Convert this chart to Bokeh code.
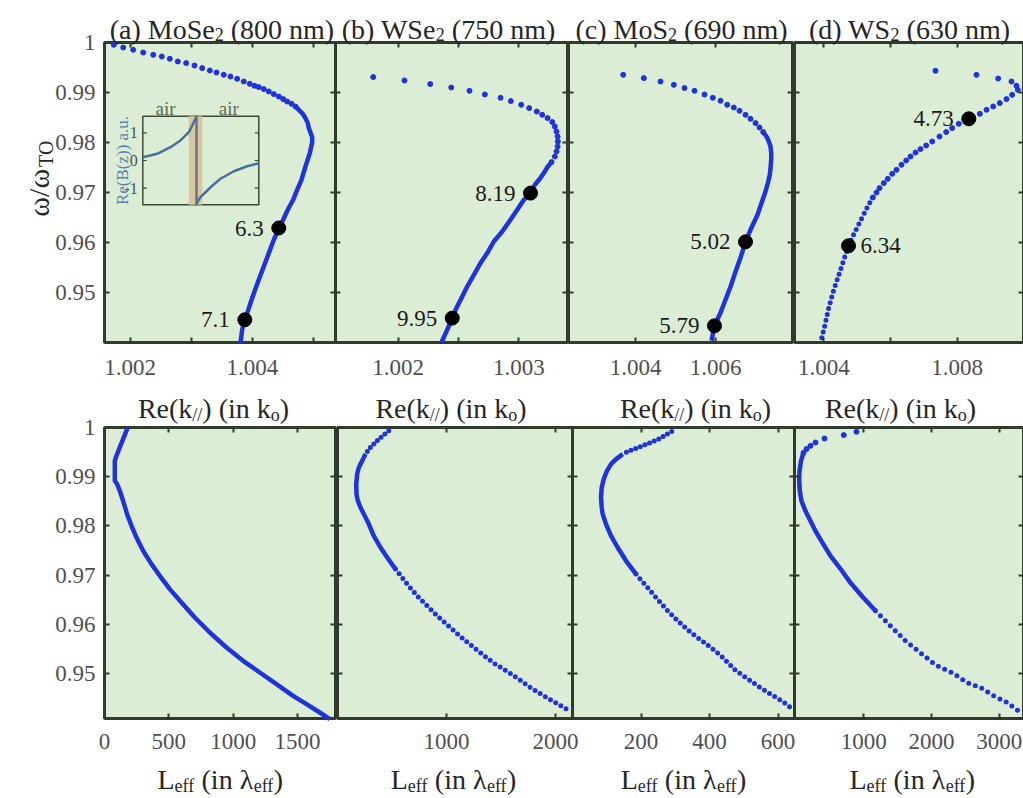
import math
from bokeh.plotting import figure
from bokeh.models import Range1d, LinearAxis, FixedTicker, Label, CustomJSTickFormatter
from bokeh.core.properties import value
from bokeh.embed import file_html
from bokeh.resources import INLINE

# ---------------- data: top row, omega/omega_TO vs Re(k_par) (in k0) ----------------
mose2_k = [1.001735, 1.001889, 1.002052, 1.002215, 1.002379, 1.002519, 1.002650, 1.002781, 1.002918, 1.003054,
           1.003179, 1.003304, 1.003413, 1.003532, 1.003642, 1.003751, 1.003859, 1.003957, 1.004034, 1.004104,
           1.004186, 1.004268, 1.004350, 1.004431, 1.004503, 1.004568, 1.004639, 1.004704, 1.004758, 1.004813,
           1.004867, 1.004905, 1.004922, 1.004950, 1.004977, 1.004977, 1.004938, 1.004867, 1.004802, 1.004731,
           1.004666, 1.004578, 1.004503, 1.004431, 1.004350, 1.004268, 1.004186, 1.004104, 1.004034, 1.003969,
           1.003915, 1.003876, 1.003833, 1.003805]
mose2_w = [0.99954, 0.99900, 0.99854, 0.99800, 0.99754, 0.99720, 0.99674, 0.99620, 0.99588, 0.99540,
           0.99488, 0.99440, 0.99400, 0.99354, 0.99320, 0.99274, 0.99220, 0.99174, 0.99134, 0.99108,
           0.99068, 0.99020, 0.98968, 0.98920, 0.98868, 0.98820, 0.98774, 0.98720, 0.98654, 0.98588,
           0.98488, 0.98388, 0.98288, 0.98200, 0.98100, 0.98000, 0.97788, 0.97520, 0.97254, 0.97054,
           0.96854, 0.96654, 0.96454, 0.96288, 0.96054, 0.95788, 0.95520, 0.95254, 0.95020, 0.94788,
           0.94588, 0.94454, 0.94254, 0.93988]

wse2_k = [1.001794, 1.002053, 1.002266, 1.002440, 1.002591, 1.002718, 1.002848, 1.002933, 1.003019, 1.003085,
          1.003148, 1.003193, 1.003237, 1.003276, 1.003297, 1.003311, 1.003320, 1.003322, 1.003320, 1.003311,
          1.003297, 1.003270, 1.003239, 1.003209, 1.003173, 1.003132, 1.003096, 1.003041, 1.002986, 1.002930,
          1.002862, 1.002792, 1.002738, 1.002682, 1.002627, 1.002572, 1.002531, 1.002483, 1.002448, 1.002406,
          1.002359]
wse2_w = [0.99308, 0.99240, 0.99168, 0.99100, 0.99034, 0.98960, 0.98894, 0.98828, 0.98754, 0.98688,
          0.98620, 0.98554, 0.98488, 0.98408, 0.98320, 0.98220, 0.98120, 0.98020, 0.97920, 0.97820,
          0.97720, 0.97608, 0.97520, 0.97400, 0.97274, 0.97154, 0.96988, 0.96854, 0.96654, 0.96454,
          0.96220, 0.96020, 0.95788, 0.95588, 0.95354, 0.95120, 0.94920, 0.94688, 0.94488, 0.94254,
          0.94000]

mos2_k = [1.003693, 1.004208, 1.004625, 1.004958, 1.005225, 1.005475, 1.005725, 1.005933, 1.006125, 1.006293,
          1.006458, 1.006600, 1.006750, 1.006875, 1.007000, 1.007100, 1.007193, 1.007275, 1.007333, 1.007375,
          1.007393, 1.007393, 1.007375, 1.007358, 1.007308, 1.007250, 1.007193, 1.007050, 1.006875, 1.006750,
          1.006625, 1.006500, 1.006375, 1.006250, 1.006125, 1.005975, 1.005900]
mos2_w = [0.99354, 0.99288, 0.99220, 0.99154, 0.99088, 0.99034, 0.98960, 0.98894, 0.98834, 0.98754,
          0.98700, 0.98634, 0.98554, 0.98474, 0.98388, 0.98300, 0.98208, 0.98120, 0.98020, 0.97920,
          0.97788, 0.97654, 0.97488, 0.97354, 0.97188, 0.97020, 0.96888, 0.96554, 0.96254, 0.96014,
          0.95694, 0.95414, 0.95114, 0.94854, 0.94594, 0.94334, 0.94034]

ws2_k = [1.007349, 1.008579, 1.009229, 1.009628, 1.009778, 1.009817, 1.009649, 1.009478, 1.009277, 1.009079,
         1.008879, 1.008678, 1.008348, 1.008048, 1.007850, 1.007670, 1.007469, 1.007250, 1.007070, 1.006900,
         1.006750, 1.006600, 1.006471, 1.006330, 1.006180, 1.006051, 1.005919, 1.005799, 1.005670, 1.005580,
         1.005469, 1.005340, 1.005220, 1.005100, 1.004980, 1.004861, 1.004741, 1.004651, 1.004561, 1.004471,
         1.004381, 1.004291, 1.004216, 1.004141, 1.004081, 1.004021, 1.003961, 1.003916]
ws2_w = [0.99434, 0.99354, 0.99280, 0.99220, 0.99134, 0.99054, 0.98954, 0.98868, 0.98788, 0.98720,
         0.98654, 0.98574, 0.98474, 0.98374, 0.98288, 0.98208, 0.98120, 0.98020, 0.97940, 0.97868,
         0.97800, 0.97720, 0.97640, 0.97554, 0.97454, 0.97374, 0.97274, 0.97188, 0.97088, 0.97000,
         0.96900, 0.96754, 0.96594, 0.96434, 0.96274, 0.96114, 0.95934, 0.95754, 0.95574, 0.95394,
         0.95214, 0.95034, 0.94854, 0.94674, 0.94494, 0.94314, 0.94154, 0.94034]

# highlighted points (black) and their labels
mose2_dot_k = [1.004431, 1.003876]
mose2_dot_w = [0.96290, 0.94454]
mose2_dot_lbl = ["6.3", "7.1"]
wse2_dot_k = [1.003096, 1.002448]
wse2_dot_w = [0.96988, 0.94488]
wse2_dot_lbl = ["8.19", "9.95"]
mos2_dot_k = [1.006750, 1.005975]
mos2_dot_w = [0.96014, 0.94334]
mos2_dot_lbl = ["5.02", "5.79"]
ws2_dot_k = [1.008348, 1.004741]
ws2_dot_w = [0.98474, 0.95934]
ws2_dot_lbl = ["4.73", "6.34"]

# ---------------- data: bottom row, omega/omega_TO vs L_eff (in lambda_eff) ----------------
mose2_L = [178.7, 144.5, 113.4, 93.2, 80.0, 80.0, 80.0, 97.9, 118.9, 144.5,
           175.6, 209.8, 248.6, 299.9, 365.2, 429.7, 507.4, 598.3, 701.6, 818.2,
           947.9, 1076.9, 1206.7, 1336.4, 1465.5, 1569.6, 1672.9, 1750.6]
mose2_wL = [0.99988, 0.99764, 0.99561, 0.99425, 0.99323, 0.99120, 0.98917, 0.98850, 0.98713, 0.98510,
            0.98240, 0.98002, 0.97764, 0.97494, 0.97224, 0.96986, 0.96715, 0.96443, 0.96138, 0.95833,
            0.95528, 0.95258, 0.95020, 0.94785, 0.94547, 0.94378, 0.94207, 0.94073]

wse2_L = [470.6, 424.8, 378.9, 333.0, 296.3, 256.9, 226.6, 195.4, 180.7, 171.6,
          174.3, 186.2, 211.0, 241.3, 287.2, 333.0, 394.5, 456.0, 532.1, 639.4,
          731.2, 822.9, 914.7, 1006.4, 1112.8, 1220.2, 1327.5, 1434.0, 1556.9, 1663.3,
          1770.6, 1892.7, 2015.6, 2116.5]
wse2_wL = [0.99933, 0.99852, 0.99764, 0.99663, 0.99581, 0.99459, 0.99323, 0.99187, 0.99053, 0.98850,
           0.98646, 0.98513, 0.98374, 0.98240, 0.98037, 0.97799, 0.97561, 0.97358, 0.97122, 0.96817,
           0.96579, 0.96376, 0.96173, 0.95990, 0.95780, 0.95583, 0.95394, 0.95211, 0.95041, 0.94886,
           0.94715, 0.94547, 0.94390, 0.94256]

mos2_L = [289.6, 268.0, 251.7, 234.2, 211.7, 188.3, 165.8, 146.6, 127.0, 112.4,
          100.7, 91.1, 85.3, 83.2, 85.3, 88.2, 97.8, 112.4, 132.0, 156.2,
          185.4, 214.6, 243.8, 278.0, 307.2, 346.0, 389.8, 433.6, 474.5, 511.5,
          548.3, 581.6, 613.7, 645.8]
mos2_wL = [0.99919, 0.99831, 0.99764, 0.99715, 0.99648, 0.99581, 0.99526, 0.99459, 0.99358, 0.99256,
           0.99120, 0.98951, 0.98780, 0.98577, 0.98374, 0.98240, 0.98037, 0.97799, 0.97561, 0.97291,
           0.97020, 0.96783, 0.96545, 0.96274, 0.96071, 0.95827, 0.95604, 0.95360, 0.95075, 0.94892,
           0.94709, 0.94567, 0.94431, 0.94262]

ws2_L = [892.3, 705.0, 420.4, 287.6, 213.9, 154.9, 110.6, 73.7, 51.6, 47.2,
         56.0, 81.1, 140.1, 213.9, 287.6, 390.9, 508.8, 656.3, 803.8, 980.8,
         1172.6, 1393.8, 1615.0, 1836.3, 2057.5, 2308.0, 2525.0, 2721.0, 2917.0, 3115.0,
         3311.0]
ws2_wL = [0.99913, 0.99846, 0.99776, 0.99695, 0.99628, 0.99561, 0.99486, 0.99323, 0.99120, 0.98917,
          0.98710, 0.98506, 0.98303, 0.98101, 0.97896, 0.97656, 0.97392, 0.97128, 0.96843, 0.96559,
          0.96274, 0.95969, 0.95664, 0.95421, 0.95177, 0.95013, 0.94813, 0.94715, 0.94547, 0.94410,
          0.94207]

# ---------------- inset (field profile) ----------------
inset_z_left = [-2.685, -1.965, -1.3, -0.8, -0.385, -0.05, 0.0]
inset_b_left = [0.12, 0.243, 0.482, 0.725, 1.025, 1.51, 1.6]
inset_z_right = [0.0, 0.035, 0.2, 0.45, 0.7, 1.2, 1.865, 2.535, 3.115]
inset_b_right = [-1.6, -1.51, -1.33, -1.15, -0.97, -0.66, -0.39, -0.21, -0.1]
inset_z_lim = [-2.685, 3.115]
inset_b_lim = [-1.6, 1.6]
inset_layer_z = [-0.385, 0.285]
inset_ticks = [1, 0, -1]
inset_tick_lbl = ["1", "0", "-1"]
air_z = [-1.55, 1.615]
air_b = [1.9, 1.9]
air_lbl = ["air", "air"]

# ---------------- axis ticks ----------------
y_ticks = [0.95, 0.96, 0.97, 0.98, 0.99, 1.0]
y_tick_lbl = ["0.95", "0.96", "0.97", "0.98", "0.99", "1"]

# ---------------- style ----------------
FONT = "Liberation Serif"
BG = "#dcedd5"
EDGE = "#2f3b2b"
TICKLBL = "#4f4f4f"
TXT = "#262626"
BLUE = "#2032dc"
CW, CH = 1023, 798

WID = {'(': 333, ')': 333, ' ': 250, 'a': 444, 'b': 500, 'c': 444, 'd': 500, 'e': 444, 'f': 333,
       'i': 278, 'k': 500, 'm': 778, 'n': 500, 'o': 500, 'u': 500, 'z': 444, '.': 250, '/': 278,
       '-': 333, 'B': 667, 'L': 611, 'M': 889, 'O': 722, 'R': 667, 'S': 556, 'T': 611, 'W': 944,
       'λ': 500, 'ω': 690}


def tw(s, size):
    return sum(WID.get(c, 500) for c in s) * size / 1000.0


p = figure(width=CW, height=CH, x_range=Range1d(0, CW), y_range=Range1d(CH, 0),
           x_axis_location=None, y_axis_location=None, output_backend="svg", toolbar_location=None,
           background_fill_color="white", border_fill_color="white", outline_line_color=None)
p.min_border_left = p.min_border_right = p.min_border_top = p.min_border_bottom = 0
p.grid.visible = False
p.title.visible = False

xr_extra = {}
yr_extra = {}


def rich_h(cx, base, parts, color=TXT):
    total = sum(tw(t, s) for t, s, _ in parts)
    pos = cx - total / 2.0
    for t, s, drop in parts:
        lead = len(t) - len(t.lstrip(' '))
        p.add_layout(Label(x=pos + tw(' ' * lead, s), y=base + drop, text=t.strip(),
                           text_font=FONT, text_font_size=f"{s}px", text_color=color,
                           text_align="left", text_baseline="alphabetic"))
        pos += tw(t, s)


def rich_v(xb, cy, parts, color=TXT):
    total = sum(tw(t, s) for t, s, _ in parts)
    pos = cy + total / 2.0
    for t, s, drop in parts:
        p.add_layout(Label(x=xb + drop, y=pos, text=t, angle=math.pi / 2,
                           text_font=FONT, text_font_size=f"{s}px", text_color=color,
                           text_align="left", text_baseline="alphabetic"))
        pos -= tw(t, s)


def fmt(labels):
    return CustomJSTickFormatter(args=dict(labels=labels),
                                 code="const s = labels[index]; return s == null ? '' : s;")


def blank():
    return CustomJSTickFormatter(code="return '';")


def add_axis(side, loc, ticks, labels, standoff, kw):
    show = labels is not None
    ax = LinearAxis(ticker=FixedTicker(ticks=ticks), formatter=fmt(labels) if show else blank(),
                    fixed_location=loc, major_label_standoff=standoff, **kw)
    ax.axis_line_color = None
    ax.major_tick_in = 5
    ax.major_tick_out = 0
    ax.minor_tick_line_color = None
    ax.major_tick_line_color = EDGE
    ax.major_tick_line_width = 2
    ax.major_label_text_font = FONT
    ax.major_label_text_font_size = "23px" if show else "0px"
    ax.major_label_text_color = TICKLBL
    p.add_layout(ax, side)


def add_panel(name, box, xr, yr, xticks, xlbl, ylabels_on, xstand):
    L, R, T, B = box
    sx = (xr[1] - xr[0]) / (R - L)
    sy = (yr[1] - yr[0]) / (B - T)
    xr_extra[name + "x"] = Range1d(xr[0] - L * sx, xr[1] + (CW - R) * sx)
    yr_extra[name + "y"] = Range1d(yr[0] - (CH - B) * sy, yr[1] + T * sy)
    kw = dict(x_range_name=name + "x", y_range_name=name + "y")
    p.quad(left=[xr[0]], right=[xr[1]], bottom=[yr[0]], top=[yr[1]],
           fill_color=BG, line_color=EDGE, line_width=3, **kw)
    add_axis("below", yr[0], xticks, xlbl, xstand, kw)
    add_axis("above", yr[1], xticks, None, 0, kw)
    add_axis("left", xr[0], y_ticks, y_tick_lbl if ylabels_on else None, 9, kw)
    add_axis("right", xr[1], y_ticks, None, 0, kw)
    return kw


def draw_series(kw, xs, ys, segs):
    for kind, i0, i1 in segs:
        sx, sy = xs[i0:i1], ys[i0:i1]
        if kind == "dots":
            p.scatter(x=sx, y=sy, size=5, color=BLUE, **kw)
        elif kind == "solid":
            p.line(x=sx, y=sy, line_width=4.5, color=BLUE, line_cap="butt", line_join="round", **kw)
        else:
            p.line(x=sx, y=sy, line_width=5, color=BLUE, line_cap="round", line_dash=kind, **kw)


def draw_marks(kw, ks, ws, lbls, sides):
    p.scatter(x=ks, y=ws, size=14, color="black", **kw)
    for side, off, align in (("L", -15, "right"), ("R", 12, "left")):
        sel = [i for i, s in enumerate(sides) if s == side]
        if sel:
            p.text(x=[ks[i] for i in sel], y=[ws[i] for i in sel], text=[lbls[i] for i in sel],
                   x_offset=off, text_align=align, text_baseline="middle",
                   text_font=value(FONT), text_font_size="23px", text_color="#1a1a1a", **kw)


TOP_Y = (0.94, 1.0)
BOT_Y = (1.0 - 291 / 4920.0, 1.0)

# ---------------- top row ----------------
ka = add_panel("ta", (104, 335, 42, 342), (1.001583, 1.005358), TOP_Y,
               [1.002, 1.003, 1.004, 1.005], ["1.002", "", "1.004", ""], True, 17)
kb = add_panel("tb", (335, 567, 42, 342), (1.001482, 1.003402), TOP_Y,
               [1.002, 1.0025, 1.003], ["1.002", "", "1.003"], False, 17)
kc = add_panel("tc", (568, 792, 42, 342), (1.002325, 1.007925), TOP_Y,
               [1.004, 1.006], ["1.004", "1.006"], False, 17)
kd = add_panel("td", (794, 1023, 42, 342), (1.003121, 1.009988), TOP_Y,
               [1.004, 1.006, 1.008], ["1.004", "", "1.008"], False, 17)

# inset inside panel (a): its own scales (z, field)
xr_extra["ix"] = Range1d(-196 / 20.0, (CW - 196) / 20.0)
yr_extra["iy"] = Range1d((160 - CH) / 27.6, 160 / 27.6)
IN = dict(x_range_name="ix", y_range_name="iy")
p.quad(left=[inset_z_lim[0]], right=[inset_z_lim[1]], bottom=[inset_b_lim[0]], top=[inset_b_lim[1]],
       fill_color=BG, line_color="#3b4a36", line_width=1.5, **IN)
p.quad(left=[inset_layer_z[0]], right=[inset_layer_z[1]], bottom=[inset_b_lim[0]], top=[inset_b_lim[1]],
       fill_color="#d6c7a1", line_color=None, **IN)
p.segment(x0=[0], y0=[inset_b_lim[0]], x1=[0], y1=[inset_b_lim[1]], line_color="#6d7282", line_width=2.5, **IN)
p.line(x=inset_z_left, y=inset_b_left, line_color="#4a6f9b", line_width=2.5, **IN)
p.line(x=inset_z_right, y=inset_b_right, line_color="#4a6f9b", line_width=2.5, **IN)
p.segment(x0=[inset_z_lim[0]] * 3, y0=inset_ticks, x1=[inset_z_lim[0] + 0.2] * 3, y1=inset_ticks,
          line_color="#3b4a36", line_width=1.2, **IN)
p.segment(x0=[inset_z_lim[1]] * 3, y0=inset_ticks, x1=[inset_z_lim[1] - 0.2] * 3, y1=inset_ticks,
          line_color="#3b4a36", line_width=1.2, **IN)
p.text(x=[inset_z_lim[0]] * 3, y=inset_ticks, text=inset_tick_lbl, x_offset=-5, text_align="right",
       text_baseline="middle", text_font=value(FONT), text_font_size="16px", text_color="#4f4f4f", **IN)
p.text(x=[inset_z_lim[0]], y=[0.0], text=["Re(B(z)) a.u."], x_offset=-20, angle=math.pi / 2,
       text_align="center", text_baseline="alphabetic", text_font=value(FONT),
       text_font_size="17px", text_color="#5a7fb0", **IN)
p.text(x=air_z, y=air_b, text=air_lbl, text_align="center", text_baseline="alphabetic",
       text_font=value(FONT), text_font_size="19px", text_color="#5d6b57", **IN)

draw_series(ka, mose2_k, mose2_w, [("dots", 0, 28), ("solid", 27, len(mose2_k))])
draw_series(kb, wse2_k, wse2_w, [("dots", 0, 22), ("solid", 21, len(wse2_k))])
draw_series(kc, mos2_k, mos2_w, [("dots", 0, 17), ("solid", 16, len(mos2_k))])
draw_series(kd, ws2_k, ws2_w, [("dots", 0, 31), ("0 6", 30, len(ws2_k))])

draw_marks(ka, mose2_dot_k, mose2_dot_w, mose2_dot_lbl, ["L", "L"])
draw_marks(kb, wse2_dot_k, wse2_dot_w, wse2_dot_lbl, ["L", "L"])
draw_marks(kc, mos2_dot_k, mos2_dot_w, mos2_dot_lbl, ["L", "L"])
draw_marks(kd, ws2_dot_k, ws2_dot_w, ws2_dot_lbl, ["L", "R"])

titles = [(221.5, "(a) MoSe", "(800 nm)"), (448, "(b) WSe", "(750 nm)"),
          (681, "(c) MoS", "(690 nm)"), (909, "(d) WS", "(630 nm)")]
for cx, head, tail in titles:
    rich_h(cx, 29, [(head, 28, 0), ("2", 18, 5), (" " + tail, 28, 0)])

for cx in (213, 450.5, 695, 900):
    rich_h(cx, 408, [("Re(k", 28, 0), ("//", 18, 6), (") (in k", 28, 0), ("o", 18, 6), (")", 28, 0)])

rich_v(38, 178, [("ω/ω", 30, 0), ("TO", 20, 7)])

# ---------------- bottom row ----------------
qa = add_panel("ba", (104, 335, 427, 718), (0, 1795), BOT_Y,
               [0, 500, 1000, 1500], ["0", "500", "1000", "1500"], True, 15)
qb = add_panel("bb", (337, 572, 427, 718), (0, 2156), BOT_Y,
               [1000, 2000], ["1000", "2000"], False, 15)
qc = add_panel("bc", (572, 794, 427, 718), (0, 648), BOT_Y,
               [200, 400, 600], ["200", "400", "600"], False, 15)
qd = add_panel("bd", (794, 1023, 427, 718), (-22, 3356), BOT_Y,
               [1000, 2000, 3000], ["1000", "2000", "3000"], False, 15)

draw_series(qa, mose2_L, mose2_wL, [("solid", 0, len(mose2_L))])
draw_series(qb, wse2_L, wse2_wL, [("0 5", 0, 6), ("solid", 5, 19), ("0 6", 18, len(wse2_L))])
draw_series(qc, mos2_L, mos2_wL, [("0 5", 0, 8), ("solid", 7, 21), ("0 6", 20, len(mos2_L))])
draw_series(qd, ws2_L, ws2_wL, [("dots", 0, 7), ("solid", 6, 21), ("0 7", 20, len(ws2_L))])

for cx in (219.7, 453, 683, 911.7):
    rich_h(cx, 779, [("L", 28, 0), ("eff", 18, 6), (" (in λ", 28, 0), ("eff", 18, 6), (")", 28, 0)])

p.extra_x_ranges = xr_extra
p.extra_y_ranges = yr_extra

open("out.html", "w").write(file_html(p, INLINE, title="dispersion"))
